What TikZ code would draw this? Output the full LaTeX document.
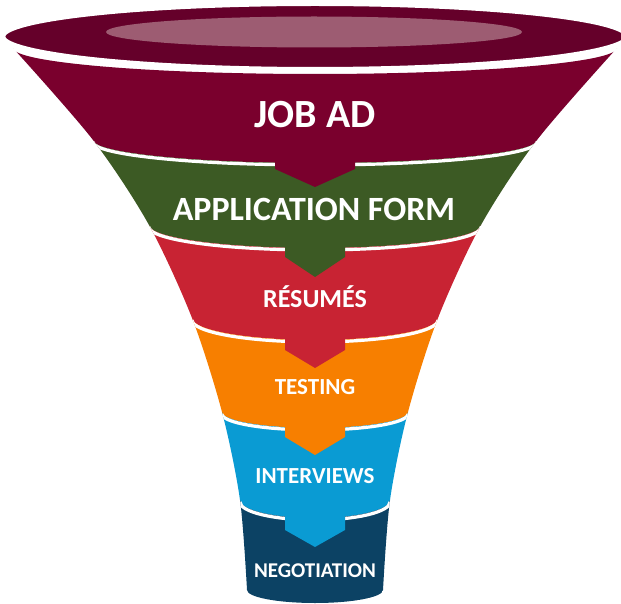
\documentclass[tikz,border=0pt]{standalone}
\usepackage{fontspec}
\setmainfont{Carlito}
\definecolor{rimc}{HTML}{65002A}
\definecolor{innerc}{HTML}{9D5C72}
\definecolor{segA}{HTML}{7A002D}
\definecolor{segB}{HTML}{3C5A24}
\definecolor{segC}{HTML}{C82333}
\definecolor{segD}{HTML}{F77F00}
\definecolor{segE}{HTML}{0A9BD3}
\definecolor{segF}{HTML}{0C4264}
% band between two half-ellipse boundaries: colour, ytop, rxtop, rytop, ybot, rxbot, rybot
\newcommand\funnelband[7]{%
  \fill[#1] (-10,-#2) -- ({315-#3},-#2) arc[start angle=180,end angle=360,x radius=#3pt,y radius=#4pt]
    -- (640,-#2) -- (640,-#5) -- ({315+#6},-#5) arc[start angle=0,end angle=-180,x radius=#6pt,y radius=#7pt]
    -- (-10,-#5) -- cycle;}
\newcommand\funnelsep[3]{% y, rx, ry
  \draw[sepline] ({315-#2},{-#1-2}) arc[start angle=180,end angle=360,x radius=#2pt,y radius=#3pt];}
\newcommand\funneltab[7]{% colour, xl, xr, ytop, yshoulder, ypoint
  \fill[#1] (#2,-#4) -- (#2,-#5) -- (315,-#6) -- (#3,-#5) -- (#3,-#4) -- cycle;}
\tikzset{
  sepline/.style={draw=white, line width=3.2pt},
  lbl/.style={text=white, font=\bfseries, inner sep=0pt, anchor=center},
}
\begin{document}
\begin{tikzpicture}[x=1pt,y=1pt]
\useasboundingbox (0,0) rectangle (621,-604);
\clip (0,0) rectangle (621,-604);
\begin{scope}
  \clip plot[smooth,tension=0.5] coordinates {(13,-48) (93,-140) (149,-225) (192,-318) (222,-412) (240,-500) (247,-590)}
    arc[start angle=180,end angle=360,x radius=68pt,y radius=13pt]
    -- plot[smooth,tension=0.5] coordinates {(383,-590) (390,-500) (408,-412) (438,-318) (481,-225) (537,-140) (617,-48)}
    -- cycle;
  % bodies
  \funnelband{segA}{48}{302}{26}{140}{222}{23}
  \funnelband{segB}{140}{222}{23}{225}{166}{23}
  \funnelband{segC}{225}{166}{23}{318}{123}{22}
  \funnelband{segD}{318}{123}{22}{412}{93}{16}
  \funnelband{segE}{412}{93}{16}{500}{75}{18}
  \funnelband{segF}{500}{75}{18}{590}{68}{13}
  % white separators
  \funnelsep{140}{222}{23}
  \funnelsep{225}{166}{23}
  \funnelsep{318}{123}{22}
  \funnelsep{412}{93}{16}
  \funnelsep{500}{75}{18}
  % arrow tabs
  \funneltab{segA}{275}{355}{150}{169}{187}{}
  \funneltab{segB}{285}{345}{238}{257}{277}{}
  \funneltab{segC}{285}{345}{330}{350}{368}{}
  \funneltab{segD}{285}{345}{418}{437}{455}{}
  \funneltab{segE}{285}{345}{508}{530}{547}{}
\end{scope}
% rim of the funnel
\draw[draw=white, line width=6pt, fill=rimc] (315,-36.5) ellipse [x radius=313pt, y radius=33.5pt];
\fill[innerc] (314,-32) ellipse [x radius=208pt, y radius=15.5pt];
% labels
\node[lbl, font=\bfseries\fontsize{40}{40}\selectfont] (t1) at (315,-115) {JOB AD};
\node[lbl, font=\bfseries\fontsize{34}{34}\selectfont] (t2) at (314,-209) {APPLICATION FORM};
\node[lbl, font=\bfseries\fontsize{26}{26}\selectfont] (t3) at (315,-297) {RÉSUMÉS};
\node[lbl, font=\bfseries\fontsize{23}{23}\selectfont] (t4) at (315,-387) {TESTING};
\node[lbl, font=\bfseries\fontsize{23}{23}\selectfont] (t5) at (315,-476) {INTERVIEWS};
\node[lbl, font=\bfseries\fontsize{21}{21}\selectfont] (t6) at (315,-571) {NEGOTIATION};
\end{tikzpicture}
\end{document}
